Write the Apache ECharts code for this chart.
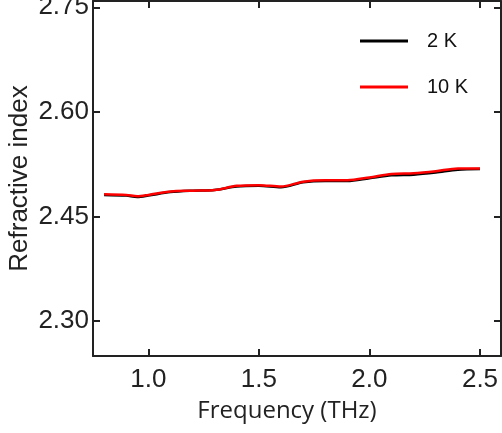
<!DOCTYPE html>
<html>
<head>
<meta charset="utf-8">
<script src="https://cdn.jsdelivr.net/npm/echarts@6/dist/echarts.min.js"></script>
<style>
html,body{margin:0;padding:0;background:#fff;}
#chart{width:502px;height:433px;}
</style>
</head>
<body>
<div id="chart"></div>
<script>
var freqs = [0.80, 0.90, 0.95, 1.00, 1.10, 1.20, 1.30, 1.40, 1.50, 1.60, 1.70, 1.80, 1.90, 2.00, 2.10, 2.20, 2.30, 2.40, 2.50];
var n2K  = [2.481, 2.480, 2.478, 2.480, 2.485, 2.487, 2.488, 2.493, 2.494, 2.492, 2.499, 2.501, 2.501, 2.505, 2.509, 2.510, 2.513, 2.517, 2.518];
var n10K = [2.482, 2.481, 2.479, 2.481, 2.486, 2.487, 2.488, 2.494, 2.495, 2.493, 2.500, 2.502, 2.502, 2.506, 2.511, 2.512, 2.515, 2.519, 2.519];
var xTicks = [1.0, 1.5, 2.0, 2.5];
var yTicks = [2.30, 2.45, 2.60, 2.75];
var seriesNames = ['2 K', '10 K'];

function pairs(xs, ys){ return xs.map(function(x,i){ return [x, ys[i]]; }); }

var axisColor = '#222';
var font = '"Liberation Sans", Arial, sans-serif';

function xAxisCfg(pos, showLabel){
  return {
    type: 'value', position: pos, min: 0.75, max: 2.595,
    name: showLabel ? 'Frequency (THz)' : '',
    nameLocation: 'middle', nameGap: 43, nameMoveOverlap: false,
    nameTextStyle: {fontFamily: '"Open Sans", sans-serif', fontSize: 24, color: '#222', padding: [0, 20, 0, 0]},
    axisLine: {show: true, onZero: false, lineStyle: {color: axisColor, width: 2}},
    axisTick: {show: true, inside: true, length: 7, customValues: xTicks, lineStyle: {color: axisColor, width: 2}},
    axisLabel: {show: showLabel, customValues: xTicks, margin: 11, fontFamily: font, fontSize: 26, color: '#222',
      formatter: function(v){ return v.toFixed(1); }},
    splitLine: {show: false}
  };
}
function yAxisCfg(pos, showLabel){
  return {
    type: 'value', position: pos, min: 2.25, max: 2.759,
    name: showLabel ? 'Refractive index' : '',
    nameLocation: 'middle', nameGap: 60, nameMoveOverlap: false,
    nameTextStyle: {fontFamily: font, fontSize: 26, color: '#222'},
    axisLine: {show: true, onZero: false, lineStyle: {color: axisColor, width: 2}},
    axisTick: {show: true, inside: true, length: 7, customValues: yTicks, lineStyle: {color: axisColor, width: 2}},
    axisLabel: {show: showLabel, customValues: yTicks, margin: 4, fontFamily: font, fontSize: 26, color: '#222',
      formatter: function(v){ return v.toFixed(2); }},
    splitLine: {show: false}
  };
}

var chart = echarts.init(document.getElementById('chart'), null, {renderer: 'canvas'});
chart.setOption({
  animation: false,
  backgroundColor: '#fff',
  grid: {left: 93, right: 1, top: 1, bottom: 77, containLabel: false, outerBoundsMode: 'none'},
  legend: {
    data: seriesNames, orient: 'vertical', left: 360, top: 31,
    icon: 'rect', itemWidth: 48, itemHeight: 3, itemGap: 26, padding: 0,
    textStyle: {fontFamily: font, fontSize: 20, color: '#111', padding: [0, 0, 0, 14]}
  },
  xAxis: [xAxisCfg('bottom', true), xAxisCfg('top', false)],
  yAxis: [yAxisCfg('left', true), yAxisCfg('right', false)],
  series: [
    {name: seriesNames[0], type: 'line', data: pairs(freqs, n2K), smooth: 0.3, symbol: 'none',
     lineStyle: {color: '#000', width: 2.5}, itemStyle: {color: '#000'}},
    {name: seriesNames[1], type: 'line', data: pairs(freqs, n10K), smooth: 0.3, symbol: 'none',
     lineStyle: {color: '#ff0000', width: 2.5}, itemStyle: {color: '#ff0000'}}
  ]
});
</script>
</body>
</html>
